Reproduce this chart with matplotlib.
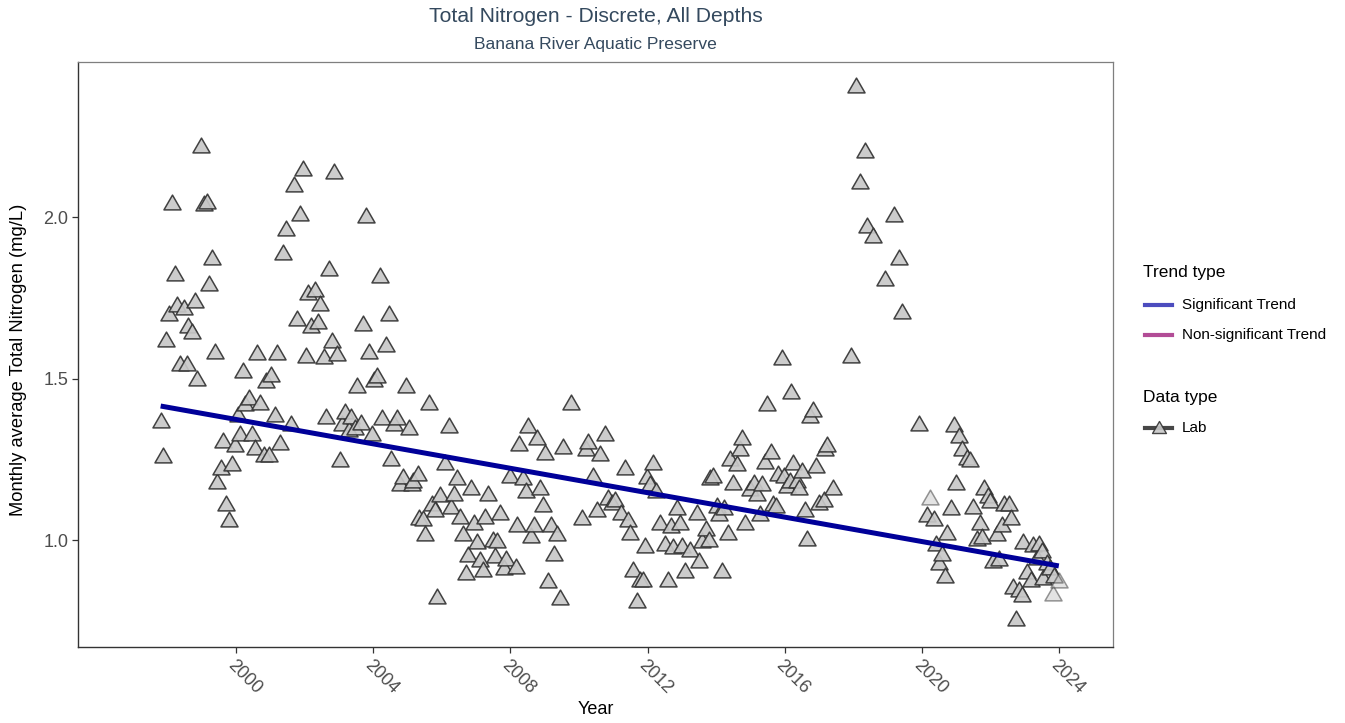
import matplotlib
matplotlib.use("Agg")
import matplotlib.pyplot as plt
import matplotlib.transforms as mtransforms
from matplotlib.lines import Line2D
from matplotlib.path import Path

plt.rcParams['font.family'] = ['Liberation Sans', 'DejaVu Sans']

# Monthly average Total Nitrogen (mg/L), decimal year
years = [
    1997.80, 1997.88, 1997.96, 1998.03, 1998.13, 1998.21, 1998.29, 1998.37, 1998.48, 1998.56,
    1998.60, 1998.70, 1998.79, 1998.87, 1998.97, 1999.05, 1999.14, 1999.22, 1999.30, 1999.38,
    1999.45, 1999.55, 1999.63, 1999.71, 1999.79, 1999.88, 1999.96, 2000.06, 2000.12, 2000.21,
    2000.25, 2000.37, 2000.45, 2000.55, 2000.62, 2000.70, 2000.80, 2000.87, 2000.95, 2001.03,
    2001.12, 2001.20, 2001.28, 2001.38, 2001.46, 2001.61, 2001.69, 2001.77, 2001.87, 2001.96,
    2002.04, 2002.10, 2002.19, 2002.29, 2002.39, 2002.45, 2002.55, 2002.62, 2002.70, 2002.80,
    2002.86, 2002.95, 2003.03, 2003.09, 2003.19, 2003.28, 2003.34, 2003.48, 2003.54, 2003.64,
    2003.70, 2003.79, 2003.87, 2003.95, 2004.02, 2004.12, 2004.20, 2004.26, 2004.37, 2004.45,
    2004.53, 2004.61, 2004.70, 2004.78, 2004.86, 2004.96, 2005.04, 2005.13, 2005.17, 2005.29,
    2005.33, 2005.46, 2005.52, 2005.62, 2005.72, 2005.81, 2005.85, 2005.95, 2006.10, 2006.20,
    2006.26, 2006.36, 2006.44, 2006.53, 2006.61, 2006.69, 2006.77, 2006.86, 2006.94, 2007.02,
    2007.12, 2007.21, 2007.27, 2007.35, 2007.49, 2007.56, 2007.60, 2007.70, 2007.80, 2007.87,
    2007.99, 2008.15, 2008.19, 2008.26, 2008.38, 2008.46, 2008.52, 2008.61, 2008.69, 2008.77,
    2008.87, 2008.94, 2009.02, 2009.10, 2009.18, 2009.27, 2009.35, 2009.45, 2009.53, 2009.78,
    2010.09, 2010.19, 2010.27, 2010.42, 2010.52, 2010.60, 2010.77, 2010.85, 2010.97, 2011.04,
    2011.23, 2011.35, 2011.43, 2011.49, 2011.58, 2011.69, 2011.78, 2011.86, 2011.93, 2011.99,
    2012.07, 2012.17, 2012.23, 2012.35, 2012.50, 2012.60, 2012.68, 2012.75, 2012.85, 2012.95,
    2013.01, 2013.10, 2013.24, 2013.44, 2013.49, 2013.59, 2013.69, 2013.79, 2013.82, 2013.90,
    2014.02, 2014.08, 2014.17, 2014.23, 2014.35, 2014.41, 2014.50, 2014.60, 2014.68, 2014.76,
    2014.83, 2014.99, 2015.09, 2015.19, 2015.28, 2015.34, 2015.43, 2015.49, 2015.59, 2015.67,
    2015.75, 2015.79, 2015.92, 2015.98, 2016.06, 2016.14, 2016.17, 2016.25, 2016.35, 2016.41,
    2016.50, 2016.58, 2016.66, 2016.73, 2016.81, 2016.91, 2016.99, 2017.13, 2017.17, 2017.24,
    2017.41, 2017.92, 2018.08, 2018.18, 2018.33, 2018.41, 2018.58, 2018.92, 2019.17, 2019.32,
    2019.42, 2019.92, 2020.14, 2020.34, 2020.41, 2020.49, 2020.59, 2020.67, 2020.74, 2020.84,
    2020.92, 2020.99, 2021.08, 2021.17, 2021.31, 2021.41, 2021.49, 2021.60, 2021.68, 2021.75,
    2021.81, 2021.93, 2021.99, 2022.08, 2022.18, 2022.26, 2022.34, 2022.40, 2022.53, 2022.60,
    2022.65, 2022.73, 2022.82, 2022.92, 2022.96, 2023.06, 2023.17, 2023.23, 2023.35, 2023.41,
    2023.51, 2023.54, 2023.64, 2023.74, 2023.84,
]
tn_values = [
    1.372, 1.263, 1.623, 1.703, 2.046, 1.826, 1.732, 1.547, 1.721, 1.549,
    1.665, 1.646, 1.744, 1.503, 2.222, 2.043, 2.049, 1.797, 1.876, 1.584,
    1.184, 1.227, 1.310, 1.116, 1.065, 1.240, 1.297, 1.390, 1.332, 1.528,
    1.425, 1.444, 1.332, 1.289, 1.582, 1.428, 1.266, 1.495, 1.266, 1.514,
    1.390, 1.582, 1.304, 1.891, 1.967, 1.361, 2.103, 1.687, 2.012, 2.152,
    1.572, 1.768, 1.665, 1.776, 1.677, 1.735, 1.570, 1.384, 1.843, 1.618,
    2.142, 1.578, 1.251, 1.363, 1.400, 1.343, 1.384, 1.351, 1.479, 1.365,
    1.673, 2.007, 1.584, 1.330, 1.498, 1.511, 1.822, 1.380, 1.608, 1.704,
    1.253, 1.361, 1.380, 1.176, 1.198, 1.479, 1.351, 1.176, 1.186, 1.207,
    1.070, 1.067, 1.023, 1.427, 1.114, 1.095, 0.827, 1.142, 1.242, 1.355,
    1.106, 1.146, 1.196, 1.075, 1.021, 0.902, 0.956, 1.165, 1.057, 0.996,
    0.941, 0.912, 1.074, 1.145, 1.002, 0.954, 1.000, 1.087, 0.917, 0.946,
    1.201, 0.920, 1.050, 1.299, 1.196, 1.155, 1.355, 1.015, 1.050, 1.320,
    1.165, 1.111, 1.273, 0.876, 1.049, 0.959, 1.023, 0.823, 1.291, 1.429,
    1.072, 1.284, 1.308, 1.201, 1.095, 1.270, 1.332, 1.134, 1.119, 1.126,
    1.088, 1.227, 1.064, 1.026, 0.909, 0.814, 0.881, 0.878, 0.985, 1.198,
    1.176, 1.242, 1.155, 1.057, 0.992, 0.881, 1.046, 0.981, 1.101, 1.057,
    0.985, 0.907, 0.972, 1.088, 0.938, 1.000, 1.038, 1.002, 1.196, 1.201,
    1.108, 1.083, 0.907, 1.103, 1.024, 1.255, 1.180, 1.239, 1.284, 1.320,
    1.057, 1.160, 1.180, 1.145, 1.085, 1.177, 1.246, 1.425, 1.276, 1.114,
    1.108, 1.207, 1.567, 1.201, 1.170, 1.186, 1.462, 1.242, 1.186, 1.165,
    1.217, 1.095, 1.005, 1.387, 1.405, 1.232, 1.119, 1.126, 1.284, 1.296,
    1.165, 1.574, 2.408, 2.111, 2.207, 1.976, 1.943, 1.811, 2.008, 1.875,
    1.708, 1.363, 1.080, 1.067, 0.990, 0.933, 0.959, 0.892, 1.026, 1.101,
    1.359, 1.180, 1.325, 1.284, 1.258, 1.250, 1.106, 1.005, 1.057, 1.012,
    1.165, 1.139, 1.124, 0.938, 1.021, 0.943, 1.049, 1.114, 1.114, 1.070,
    0.858, 0.759, 0.850, 0.833, 0.998, 0.905, 0.878, 0.988, 0.948, 0.990,
    0.969, 0.886, 0.933, 0.917, 0.892,
]
# Months drawn with a fainter marker
faint_years = [2020.24, 2023.81, 2023.99]
faint_values = [1.134, 0.835, 0.876]

# Fitted trend (start and end of the line)
trend_years = [1997.80, 2023.99]
trend_values = [1.415, 0.920]

x_ticks = [2000, 2004, 2008, 2012, 2016, 2020, 2024]
y_ticks = [1.0, 1.5, 2.0]
y_ticklabels = ["1.0", "1.5", "2.0"]

trend_labels = ["Significant Trend", "Non-significant Trend"]
data_labels = ["Lab"]

TITLE_COLOR = "#34495e"
TREND_COLOR = "#000099"
TREND_KEY_COLORS = ["#4c4cbe", "#b24c96"]
FILL = "#c8c8c8"
EDGE = "#333333"

tri = Path([(0, 0.866), (-1, -0.866), (1, -0.866), (0, 0.866)],
           [Path.MOVETO, Path.LINETO, Path.LINETO, Path.CLOSEPOLY])

W, H = 1345, 723
fig = plt.figure(figsize=(W / 100, H / 100), dpi=100)
ax = fig.add_axes([78 / W, 76 / H, (1113 - 78) / W, (647 - 62) / H])

ax.plot(years, tn_values, linestyle="none", marker=tri, markersize=12.3,
        markerfacecolor=FILL, markeredgecolor=EDGE, markeredgewidth=1.1,
        alpha=0.92, zorder=3)
ax.plot(faint_years, faint_values, linestyle="none", marker=tri, markersize=12.3,
        markerfacecolor=FILL, markeredgecolor=EDGE, markeredgewidth=1.1,
        alpha=0.5, zorder=3)
ax.plot(trend_years, trend_values, color=TREND_COLOR, linewidth=3.6,
        solid_capstyle="butt", zorder=4)

ax.set_xlim(1995.39, 2025.57)
ax.set_ylim(0.669, 2.480)
ax.set_xticks(x_ticks)
ax.set_yticks(y_ticks)
ax.set_yticklabels(y_ticklabels)
ax.tick_params(axis="both", direction="out", length=4, width=0.9, color=EDGE,
               labelcolor="#4d4d4d", labelsize=13)
ax.tick_params(axis="y", pad=3)

# Rotated year labels
ax.set_xticklabels([str(t) for t in x_ticks], rotation=-45, ha="left", va="center",
                   rotation_mode="anchor")
offset = mtransforms.ScaledTranslation(-6 / 100, -5 / 100, fig.dpi_scale_trans)
for lbl in ax.get_xticklabels():
    lbl.set_transform(lbl.get_transform() + offset)

for side in ("top", "right"):
    ax.spines[side].set_color("#7f7f7f")
    ax.spines[side].set_linewidth(0.9)
for side in ("left", "bottom"):
    ax.spines[side].set_color(EDGE)
    ax.spines[side].set_linewidth(1.0)

axc = (78 + 1113) / 2 / W
fig.text(axc, 1 - 710 / H, "Year", ha="center", va="center", fontsize=13)
fig.text(19 / W, 1 - 360 / H, "Monthly average Total Nitrogen (mg/L)", rotation=90,
         ha="center", va="center", fontsize=13.2)

fig.text(axc, 1 - 16 / H, "Total Nitrogen - Discrete, All Depths", ha="center",
         va="center", fontsize=15.2, color=TITLE_COLOR)
fig.text(axc, 1 - 44 / H, "Banana River Aquatic Preserve", ha="center", va="center",
         fontsize=12.6, color=TITLE_COLOR)


# Legend blocks laid out in pixel positions
def fx(px):
    return px / W


def fy(py):
    return 1 - py / H


key_x0, key_x1, label_x, title_x = 1145, 1172, 1182, 1143

fig.text(fx(title_x), fy(272), "Trend type", ha="left", va="center", fontsize=12.5)
for i, (lab, col) in enumerate(zip(trend_labels, TREND_KEY_COLORS)):
    y = 305 + 30 * i
    fig.add_artist(Line2D([fx(key_x0), fx(key_x1)], [fy(y), fy(y)], color=col,
                          linewidth=3, transform=fig.transFigure))
    fig.text(fx(label_x), fy(y), lab, ha="left", va="center", fontsize=11)

fig.text(fx(title_x), fy(397), "Data type", ha="left", va="center", fontsize=12.5)
for i, lab in enumerate(data_labels):
    y = 428 + 30 * i
    fig.add_artist(Line2D([fx(key_x0), fx(key_x1)], [fy(y), fy(y)], color=EDGE,
                          alpha=0.9, linewidth=3, transform=fig.transFigure))
    fig.add_artist(Line2D([fx((key_x0 + key_x1) / 2)], [fy(y - 1)], linestyle="none",
                          marker=tri, markersize=10, markerfacecolor=FILL,
                          markeredgecolor=EDGE, markeredgewidth=1.0, alpha=0.9,
                          transform=fig.transFigure))
    fig.text(fx(label_x), fy(y), lab, ha="left", va="center", fontsize=11)

fig.savefig("out.png", dpi=100)
